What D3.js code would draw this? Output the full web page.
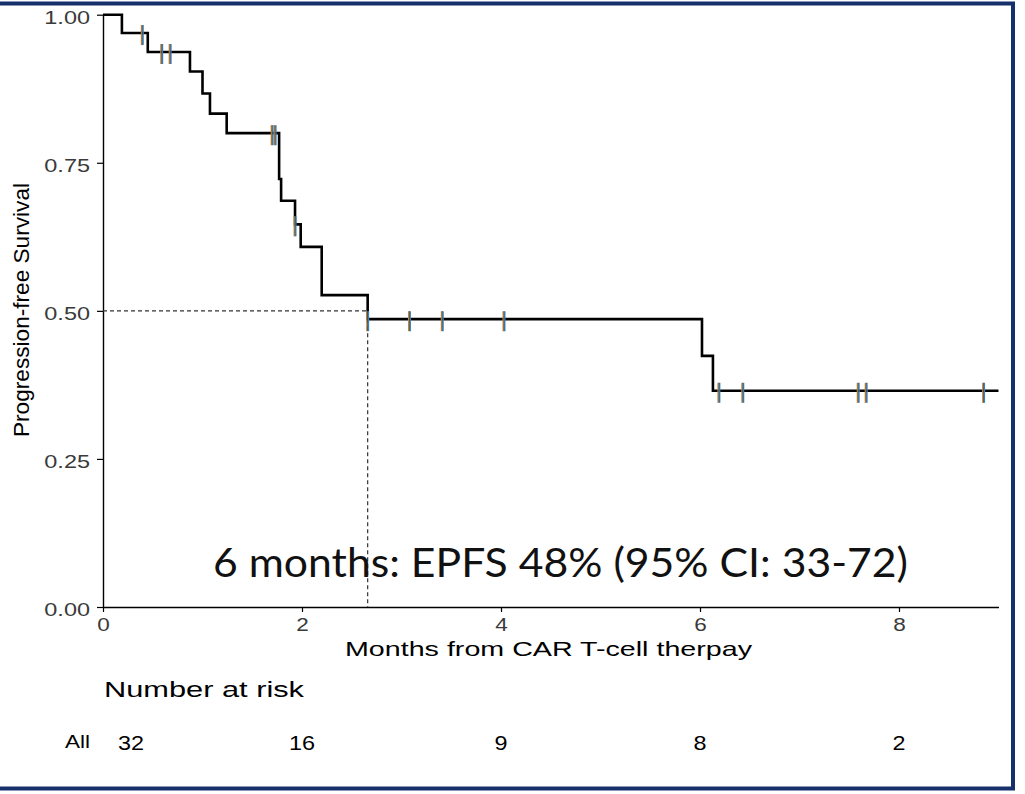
<!DOCTYPE html>
<html>
<head>
<meta charset="utf-8">
<script src="https://cdn.jsdelivr.net/npm/d3@7"></script>
<style>
  html, body { margin: 0; padding: 0; background: #fff; }
  svg { display: block; }
</style>
</head>
<body>
<svg id="chart" width="1025" height="794"></svg>
<script>
// Kaplan-Meier progression-free survival after CAR T-cell therapy
const stepTimes    = [0, 0.19, 0.45, 0.874, 1.00, 1.075, 1.243, 1.77, 1.79, 1.93, 1.987, 2.198, 2.66, 6.02, 6.13];
const stepSurvival = [1.0, 0.969, 0.937, 0.904, 0.867, 0.833, 0.800, 0.7225, 0.686, 0.646, 0.608, 0.5265, 0.486, 0.424, 0.365];
const followUpEnd  = 9.0;
const censorTimes  = [0.395, 0.59, 0.675, 1.70, 1.73, 1.93, 2.66, 3.08, 3.41, 4.03, 6.19, 6.43, 7.59, 7.67, 8.85];
const medianPoint  = [2.66, 0.5];

const yTicks = [0, 0.25, 0.5, 0.75, 1.0];
const xTicks = [0, 2, 4, 6, 8];

const riskTimes  = [0, 2, 4, 6, 8];
const riskCounts = [32, 16, 9, 8, 2];

const annotation = "6 months: EPFS 48% (95% CI: 33-72)";

const svg = d3.select("#chart");
const FONT = "'Liberation Sans', Arial, sans-serif";

const x = d3.scaleLinear().domain([0, 9]).range([103, 998.5]);
const y = d3.scaleLinear().domain([0, 1]).range([607, 14.7]);

// outer frame
svg.append("rect")
  .attr("x", -2).attr("y", 3.5).attr("width", 1015).attr("height", 785)
  .attr("fill", "none").attr("stroke", "#15306b").attr("stroke-width", 4);

// y axis
const gy = svg.append("g").attr("transform", `translate(${x(0)},0)`)
  .call(d3.axisLeft(y).tickValues(yTicks).tickFormat(d3.format(".2f")).tickSize(6).tickSizeOuter(0));
gy.select(".domain").attr("stroke", "#000").attr("stroke-width", 1.4);
gy.selectAll(".tick line").attr("stroke", "#000").attr("stroke-width", 1.2);
gy.selectAll(".tick text")
  .attr("x", 0).attr("dy", "0.47em")
  .attr("transform", "translate(-13,0) scale(1.27,1)")
  .attr("font-family", FONT).attr("font-size", 18.5).attr("fill", "#3a3a3a");

// x axis
const gx = svg.append("g").attr("transform", `translate(0,${y(0)})`)
  .call(d3.axisBottom(x).tickValues(xTicks).tickFormat(d3.format("d")).tickSize(5).tickSizeOuter(0));
gx.select(".domain").attr("stroke", "#000").attr("stroke-width", 1.4);
gx.selectAll(".tick line").attr("stroke", "#000").attr("stroke-width", 1.2);
gx.selectAll(".tick text")
  .attr("y", 0).attr("dy", 0)
  .attr("transform", "translate(0,24) scale(1.22,1)")
  .attr("font-family", FONT).attr("font-size", 18.5).attr("fill", "#3a3a3a");

// axis titles
svg.append("text")
  .attr("x", 345).attr("y", 656)
  .attr("font-family", FONT).attr("font-size", 21)
  .attr("textLength", 407).attr("lengthAdjust", "spacingAndGlyphs")
  .text("Months from CAR T-cell therpay");

svg.append("text")
  .attr("transform", "translate(29,437) rotate(-90)")
  .attr("font-family", FONT).attr("font-size", 22)
  .attr("textLength", 254).attr("lengthAdjust", "spacingAndGlyphs")
  .text("Progression-free Survival");

// median reference lines
svg.append("path")
  .attr("d", `M${x(0)},${y(medianPoint[1])}H${x(medianPoint[0])}V${y(0)}`)
  .attr("fill", "none").attr("stroke", "#333").attr("stroke-width", 1.2)
  .attr("stroke-dasharray", "4,3");

// survival curve
const curvePts = stepTimes.map((t, i) => [t, stepSurvival[i]]);
curvePts.push([followUpEnd, stepSurvival[stepSurvival.length - 1]]);
const line = d3.line().x(d => x(d[0])).y(d => y(d[1])).curve(d3.curveStepAfter);
svg.append("path")
  .attr("d", line(curvePts))
  .attr("fill", "none").attr("stroke", "#000").attr("stroke-width", 2.6)
  .attr("stroke-linejoin", "miter");

// censor marks
const survAt = t => {
  let s = stepSurvival[0];
  stepTimes.forEach((st, i) => { if (st <= t) s = stepSurvival[i]; });
  return s;
};
const cg = svg.append("g");
censorTimes.forEach(t => {
  const cx = x(t), cy = y(survAt(t));
  cg.append("line").attr("x1", cx - 0.8).attr("x2", cx - 0.8).attr("y1", cy - 8).attr("y2", cy + 12)
    .attr("stroke", "#c5873c").attr("stroke-width", 1.4);
  cg.append("line").attr("x1", cx + 0.8).attr("x2", cx + 0.8).attr("y1", cy - 8).attr("y2", cy + 12)
    .attr("stroke", "#2f86cf").attr("stroke-width", 1.4);
  cg.append("line").attr("x1", cx).attr("x2", cx).attr("y1", cy - 8).attr("y2", cy + 12)
    .attr("stroke", "#4a4a4a").attr("stroke-width", 0.8);
});

// annotation
svg.append("text")
  .attr("x", 213).attr("y", 577)
  .attr("font-family", "Lato, 'Open Sans', sans-serif").attr("font-size", 40)
  .attr("textLength", 695).attr("lengthAdjust", "spacingAndGlyphs")
  .attr("fill", "#111")
  .text(annotation);

// risk table
svg.append("text")
  .attr("x", 104).attr("y", 697)
  .attr("font-family", FONT).attr("font-size", 22)
  .attr("textLength", 200).attr("lengthAdjust", "spacingAndGlyphs")
  .text("Number at risk");

svg.append("text")
  .attr("x", 65).attr("y", 748)
  .attr("font-family", FONT).attr("font-size", 18.5)
  .attr("textLength", 25).attr("lengthAdjust", "spacingAndGlyphs")
  .text("All");

svg.append("g").selectAll("text")
  .data(riskTimes.map((t, i) => ({ t, n: riskCounts[i] })))
  .join("text")
  .attr("transform", (d, i) => `translate(${i === 0 ? x(d.t) + 28 : x(d.t)},750) scale(1.2,1)`)
  .attr("text-anchor", "middle")
  .attr("font-family", FONT).attr("font-size", 19.5)
  .text(d => d.n);
</script>
</body>
</html>
